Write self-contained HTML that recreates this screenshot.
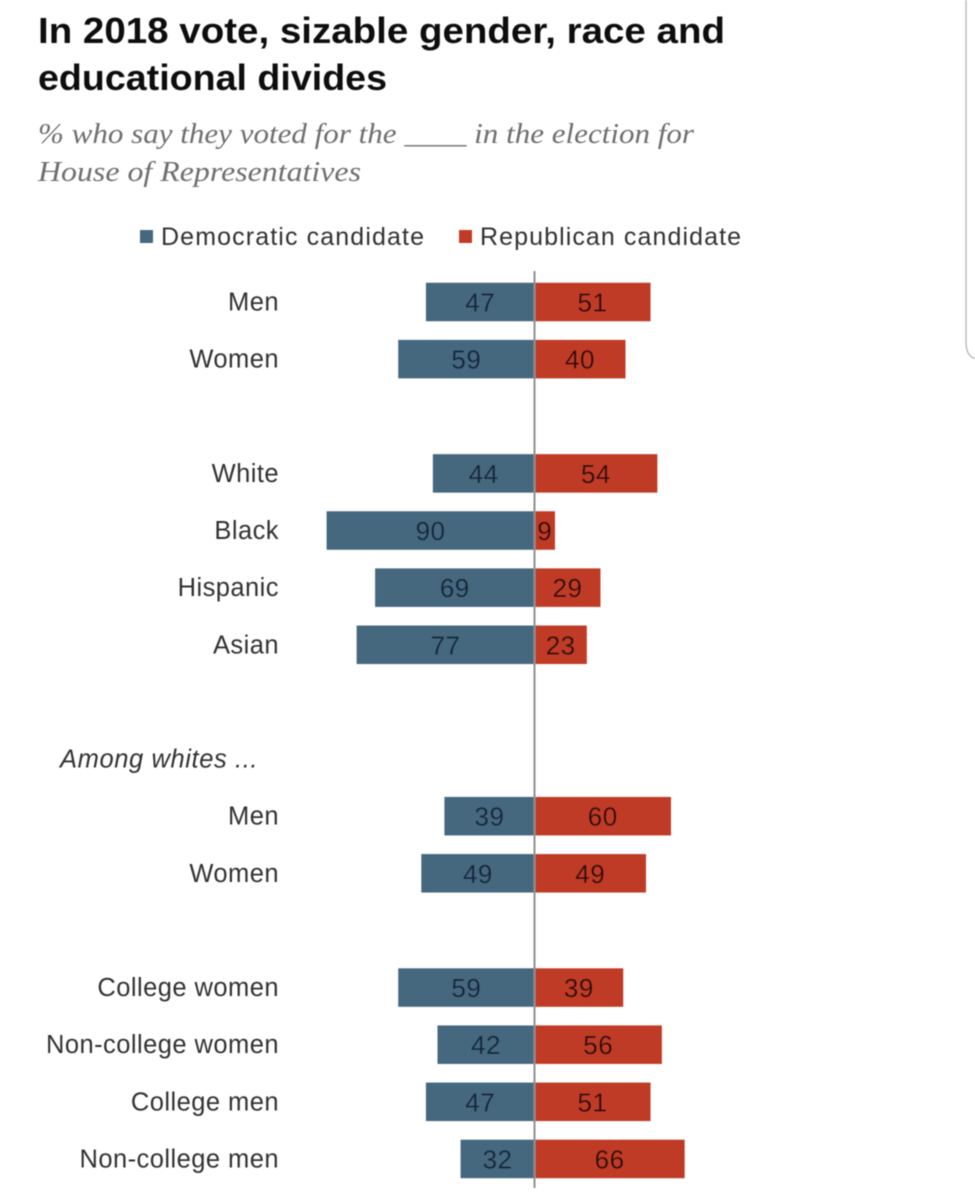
<!DOCTYPE html>
<html lang="en">
<head>
<meta charset="utf-8">
<title>In 2018 vote, sizable gender, race and educational divides</title>
<style>
  html, body { margin: 0; padding: 0; background: #fff; }
  body { width: 975px; height: 1200px; overflow: hidden; }
  svg { display: block; }
  .sans { font-family: "Liberation Sans", Arial, sans-serif; }
  .serif { font-family: "Liberation Serif", serif; }
</style>
</head>
<body>
<svg id="chart" width="975" height="1200" viewBox="0 0 975 1200" xmlns="http://www.w3.org/2000/svg">
  <defs><filter id="soft" x="-5%" y="-5%" width="110%" height="110%"><feGaussianBlur stdDeviation="0.6"/></filter></defs>
  <g id="root" filter="url(#soft)">
    <path d="M966 0 V342 Q966 356 975 358.500" fill="none" stroke="#bdbdbd" stroke-width="1.500"/>
    <text class="sans" x="38" y="43" font-size="36" font-weight="700" fill="#111" textLength="687" lengthAdjust="spacingAndGlyphs">In 2018 vote, sizable gender, race and</text>
    <text class="sans" x="38" y="90" font-size="36" font-weight="700" fill="#111" textLength="349" lengthAdjust="spacingAndGlyphs">educational divides</text>
    <text class="serif" x="38" y="143" font-size="29" font-style="italic" fill="#6e6e6e" textLength="656" lengthAdjust="spacingAndGlyphs">% who say they voted for the ____ in the election for</text>
    <text class="serif" x="38" y="181" font-size="29" font-style="italic" fill="#6e6e6e" textLength="323" lengthAdjust="spacingAndGlyphs">House of Representatives</text>
    <g>
      <g>
        <rect x="140" y="230" width="13" height="13" fill="#44687f"/>
        <text class="sans" x="161" y="245" font-size="25" fill="#333" textLength="263" lengthAdjust="spacing">Democratic candidate</text>
      </g>
      <g>
        <rect x="459" y="230" width="13" height="13" fill="#bf3b27"/>
        <text class="sans" x="480" y="245" font-size="25" fill="#333" textLength="261" lengthAdjust="spacing">Republican candidate</text>
      </g>
    </g>
    <g id="bars"></g>
    <g id="values"></g>
    <g id="labels"></g>
    <line id="axis" stroke="#8f8f8f" stroke-width="2"/>
  </g>
</svg>
<script>
const categories = ["Men", "Women", "", "White", "Black", "Hispanic", "Asian", "", "Among whites ...", "Men", "Women", "", "College women", "Non-college women", "College men", "Non-college men"];
const democratic = [47, 59, null, 44, 90, 69, 77, null, null, 39, 49, null, 59, 42, 47, 32];
const republican = [51, 40, null, 54, 9, 29, 23, null, null, 60, 49, null, 39, 56, 51, 66];

const NS = "http://www.w3.org/2000/svg";
const zeroX = 534.5;
const unitDem = 2.31;
const unitRep = 2.275;
const firstRowY = 302;
const rowStep = 57.13;
const barHeight = 38.5;

function xDem(v) { return zeroX - v * unitDem; }
function xRep(v) { return zeroX + v * unitRep; }
function yRow(i) { return firstRowY + i * rowStep; }
function slug(s) { return s.toLowerCase().replace(/[^a-z0-9]+/g, "-").replace(/^-|-$/g, ""); }

const barsG = document.getElementById("bars");
const valuesG = document.getElementById("values");
const labelsG = document.getElementById("labels");

categories.forEach(function (cat, i) {
  if (!cat) return;
  const cy = yRow(i);
  const lab = document.createElementNS(NS, "text");
  
  
  lab.setAttribute("class", "sans");
  lab.setAttribute("font-size", "25.5");
  lab.setAttribute("fill", "#333");
  lab.setAttribute("y", cy + 8.5);
  if (democratic[i] === null) {
    lab.setAttribute("x", 60);
    lab.setAttribute("font-style", "italic");
    lab.setAttribute("letter-spacing", "0.6");
  } else {
    lab.setAttribute("x", 279);
    lab.setAttribute("text-anchor", "end");
    lab.setAttribute("letter-spacing", "0.45");
  }
  lab.textContent = cat;
  labelsG.appendChild(lab);

  if (democratic[i] === null) return;

  const d = document.createElementNS(NS, "rect");
  
  
  d.setAttribute("x", xDem(democratic[i]));
  d.setAttribute("y", cy - barHeight / 2);
  d.setAttribute("width", zeroX - xDem(democratic[i]));
  d.setAttribute("height", barHeight);
  d.setAttribute("fill", "#44687f");
  barsG.appendChild(d);

  const r = document.createElementNS(NS, "rect");
  
  
  r.setAttribute("x", zeroX);
  r.setAttribute("y", cy - barHeight / 2);
  r.setAttribute("width", xRep(republican[i]) - zeroX);
  r.setAttribute("height", barHeight);
  r.setAttribute("fill", "#bf3b27");
  barsG.appendChild(r);

  const dv = document.createElementNS(NS, "text");
  
  
  dv.setAttribute("class", "sans");
  dv.setAttribute("font-size", "26");
  dv.setAttribute("letter-spacing", "0.5");
  dv.setAttribute("fill", "#14283a");
  dv.setAttribute("text-anchor", "middle");
  dv.setAttribute("x", (xDem(democratic[i]) + zeroX) / 2);
  dv.setAttribute("y", cy + 9.5);
  dv.textContent = democratic[i];
  valuesG.appendChild(dv);

  const rv = document.createElementNS(NS, "text");
  
  
  rv.setAttribute("class", "sans");
  rv.setAttribute("font-size", "26");
  rv.setAttribute("letter-spacing", "0.5");
  rv.setAttribute("fill", "#2a0f0a");
  rv.setAttribute("text-anchor", "middle");
  rv.setAttribute("x", (xRep(republican[i]) + zeroX) / 2);
  rv.setAttribute("y", cy + 9.5);
  rv.textContent = republican[i];
  valuesG.appendChild(rv);
});

const axis = document.getElementById("axis");
axis.setAttribute("x1", zeroX);
axis.setAttribute("x2", zeroX);
axis.setAttribute("y1", 271);
axis.setAttribute("y2", 1188);
</script>
</body>
</html>
